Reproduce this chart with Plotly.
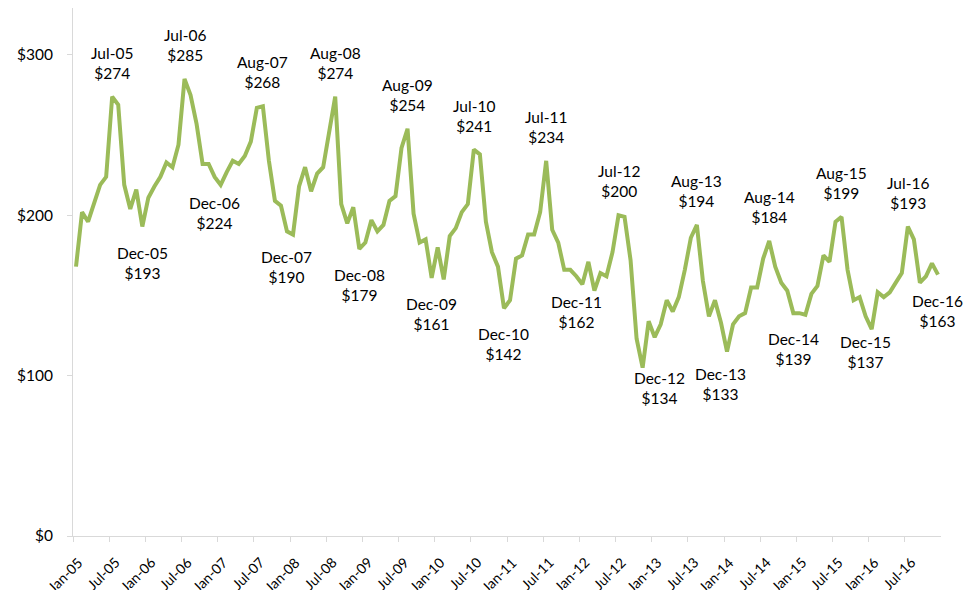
import plotly.graph_objects as go
import pandas as pd

# Monthly values, Jan..Dec, per year
v2005 = [168, 202, 196, 207, 219, 224, 274, 269, 219, 204, 216, 193]
v2006 = [211, 218, 224, 233, 230, 244, 285, 275, 257, 232, 232, 224]
v2007 = [219, 227, 234, 232, 237, 246, 267, 268, 234, 209, 206, 190]
v2008 = [188, 218, 230, 215, 226, 230, 251, 274, 207, 195, 205, 179]
v2009 = [183, 197, 190, 194, 209, 212, 242, 254, 201, 183, 185, 161]
v2010 = [180, 160, 187, 192, 202, 207, 241, 238, 196, 177, 168, 142]
v2011 = [147, 173, 175, 188, 188, 202, 234, 191, 183, 166, 166, 162]
v2012 = [157, 171, 153, 164, 162, 177, 200, 199, 172, 123, 105, 134]
v2013 = [124, 132, 147, 140, 149, 166, 186, 194, 159, 137, 147, 133]
v2014 = [115, 132, 137, 139, 155, 155, 173, 184, 168, 158, 153, 139]
v2015 = [139, 138, 151, 156, 175, 171, 196, 199, 166, 147, 149, 137]
v2016 = [129, 152, 149, 152, 158, 164, 193, 185, 158, 162, 170, 163]

values = (v2005 + v2006 + v2007 + v2008 + v2009 + v2010 +
          v2011 + v2012 + v2013 + v2014 + v2015 + v2016)

months = [d.strftime("%b-%y") for d in pd.date_range("2005-01-01", periods=len(values), freq="MS")]
idx = list(range(len(values)))

tick_idx = list(range(0, len(values), 6))
tick_text = [months[i] for i in tick_idx]

# Labelled peaks and troughs
peak_months = ["Jul-05", "Jul-06", "Aug-07", "Aug-08", "Aug-09", "Jul-10", "Jul-11",
               "Jul-12", "Aug-13", "Aug-14", "Aug-15", "Jul-16"]
trough_months = ["Dec-05", "Dec-06", "Dec-07", "Dec-08", "Dec-09", "Dec-10", "Dec-11",
                 "Dec-12", "Dec-13", "Dec-14", "Dec-15", "Dec-16"]
trough_extra = {"Dec-12": (11, -31), "Dec-13": (0, -25)}

fig = go.Figure()
fig.add_trace(go.Scatter(
    x=idx, y=values, mode="lines",
    line=dict(color="#9BBB59", width=4),
    hoverinfo="skip", showlegend=False,
))

FONT = "Lato"
LBL = 15.5
annotations = []
for m in peak_months:
    i = months.index(m)
    annotations.append(dict(
        x=i, y=values[i], xref="x", yref="y",
        text=f"{m}<br>${values[i]}", showarrow=False,
        xanchor="center", yanchor="bottom", yshift=13,
        font=dict(family=FONT, size=LBL, color="#000000"),
    ))
for m in trough_months:
    i = months.index(m)
    dx, dy = trough_extra.get(m, (0, 0))
    annotations.append(dict(
        x=i, y=values[i], xref="x", yref="y",
        text=f"{m}<br>${values[i]}", showarrow=False,
        xanchor="center", yanchor="top", yshift=-15 + dy, xshift=dx,
        font=dict(family=FONT, size=LBL, color="#000000"),
    ))
# rotated category labels under the x axis
for t, txt in zip(tick_idx, tick_text):
    annotations.append(dict(
        x=t - 0.5, y=0, xref="x", yref="paper",
        text=txt, showarrow=False, textangle=-45,
        xanchor="right", yanchor="top", xshift=16, yshift=-15,
        font=dict(family=FONT, size=14, color="#000000"),
    ))

# page body adds an 8px offset; figure sized to fit the window
fig.update_layout(
    width=972, height=582,
    margin=dict(l=65, r=39, t=0, b=54),
    paper_bgcolor="white", plot_bgcolor="white",
    annotations=annotations,
    font=dict(family=FONT, color="#000000"),
)
fig.update_xaxes(
    range=[-0.5, len(values) - 0.5], automargin=False,
    tickmode="array", tickvals=[t - 0.5 for t in tick_idx], showticklabels=False,
    showgrid=False, zeroline=False,
    showline=True, linecolor="#D9D9D9", linewidth=1,
    ticks="outside", ticklen=5, tickcolor="#D9D9D9",
)
fig.update_yaxes(
    range=[0, 329.3], automargin=False,
    tickmode="array", tickvals=[0, 100, 200, 300], ticktext=["$0", "$100", "$200", "$300"],
    tickfont=dict(family=FONT, size=15.5, color="#000000"),
    ticklabelstandoff=11,
    showgrid=False, zeroline=False,
    showline=True, linecolor="#D9D9D9", linewidth=1,
    ticks="outside", ticklen=5, tickcolor="#D9D9D9",
)

fig.write_html("out.html")
